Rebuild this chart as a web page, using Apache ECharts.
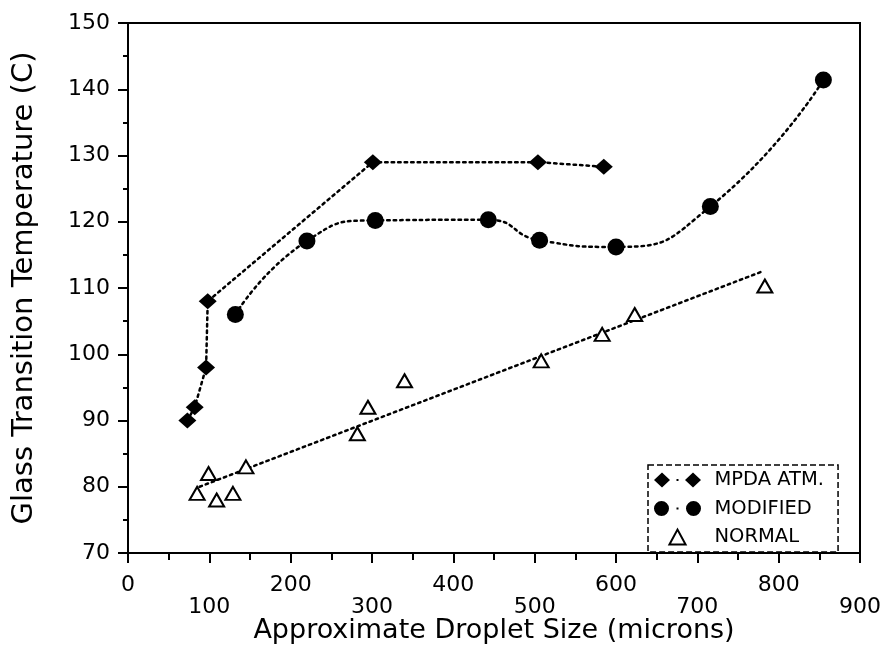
<!DOCTYPE html>
<html>
<head>
<meta charset="utf-8">
<script src="https://cdn.jsdelivr.net/npm/echarts@6/dist/echarts.min.js"></script>
<style>
  html, body { margin: 0; padding: 0; background: #fff; }
  #chart { width: 886px; height: 645px; }
</style>
</head>
<body>
<div id="chart"></div>
<script>
// MPDA ATM. (菱形)
var mpdaX = [73, 82, 96, 98, 301, 504, 585]
var mpdaY = [90, 92, 98, 108, 129, 129, 128.3]
// MODIFIED (圆点)
var modX = [132, 220, 304, 443, 506, 600, 716, 855]
var modY = [106, 117.1, 120.2, 120.3, 117.2, 116.2, 122.3, 141.4]
// NORMAL (空心三角)
var normX = [85, 99, 109, 129, 145, 282, 295, 340, 508, 583, 623, 783]
var normY = [79, 82, 78, 79, 83, 88, 92, 96, 99, 103, 106, 110.3]
// NORMAL 拟合线端点
var fitX = [88, 782]
var fitY = [80, 112.6]

var xMin = 0, xMax = 900, xStep = 100
var yMin = 70, yMax = 150, yStep = 10

function pairs(xs, ys) {
    return xs.map(function (x, i) { return [x, ys[i]] })
}

var font = 'DejaVu Sans'
var dotted = { color: '#000', width: 2.5, type: [2.5, 4], cap: 'round' }

var option = {
    animation: false,
    backgroundColor: '#fff',
    grid: {
        left: 128,
        right: 26,
        top: 23,
        bottom: 92,
        outerBoundsMode: 'none', // 不让 v6 自动收缩绘图区
        show: true,
        borderColor: '#000',
        borderWidth: 2
    },
    legend: {
        orient: 'vertical',
        left: 648,
        top: 465,
        padding: [5, 14, 5, 6],
        itemWidth: 48,
        itemHeight: 15,
        itemGap: 8.5,
        symbolKeepAspect: true,
        borderColor: '#000',
        borderWidth: 1.5,
        borderType: 'dashed',
        textStyle: {
            fontFamily: font,
            fontSize: 19.5,
            lineHeight: 18,
            color: '#000',
            padding: [0, 0, 0, 8]
        },
        data: [
            {
                name: 'MPDA ATM.',
                icon: 'path://M0,7.5L8,0L16,7.5L8,15Z M22.5,6.5h2v2h-2Z M31,7.5L39,0L47,7.5L39,15Z'
            },
            {
                name: 'MODIFIED',
                icon: 'path://M0,7.5A7.5,7.5 0 1,1 15,7.5A7.5,7.5 0 1,1 0,7.5Z M22.5,6.5h2v2h-2Z M32,7.5A7.5,7.5 0 1,1 47,7.5A7.5,7.5 0 1,1 32,7.5Z'
            },
            {
                name: 'NORMAL',
                icon: 'path://M0,13L7,0L14,13Z'
            }
        ]
    },
    xAxis: {
        type: 'value',
        min: xMin,
        max: xMax,
        interval: xStep,
        name: 'Approximate Droplet Size (microns)',
        nameLocation: 'middle',
        nameGap: 64,
        nameMoveOverlap: false,
        nameTextStyle: { fontFamily: font, fontSize: 27, color: '#000' },
        axisLine: { show: true, lineStyle: { color: '#000', width: 2 } },
        axisTick: { show: true, length: 10, lineStyle: { color: '#000', width: 2 } },
        minorTick: { show: true, splitNumber: 2, length: 7, lineStyle: { color: '#000', width: 2 } },
        splitLine: { show: false },
        axisLabel: {
            margin: 21,
            fontFamily: font,
            fontSize: 22,
            color: '#000',
            lineHeight: 22,
            // 奇数百的刻度标签放到第二行
            formatter: function (v) {
                return (v / 100) % 2 === 1 ? '\n' + v : String(v)
            }
        }
    },
    yAxis: {
        type: 'value',
        min: yMin,
        max: yMax,
        interval: yStep,
        name: 'Glass Transition Temperature (C)',
        nameLocation: 'middle',
        nameGap: 89,
        nameMoveOverlap: false,
        nameTextStyle: { fontFamily: font, fontSize: 29, color: '#000' },
        axisLine: { show: true, lineStyle: { color: '#000', width: 2 } },
        axisTick: { show: true, length: 10, lineStyle: { color: '#000', width: 2 } },
        minorTick: { show: true, splitNumber: 2, length: 5, lineStyle: { color: '#000', width: 2 } },
        splitLine: { show: false },
        axisLabel: {
            margin: 18,
            fontFamily: font,
            fontSize: 22,
            color: '#000'
        }
    },
    series: [
        {
            name: 'MPDA ATM.',
            type: 'line',
            data: pairs(mpdaX, mpdaY),
            symbol: 'diamond',
            symbolSize: [18, 16],
            itemStyle: { color: '#000' },
            lineStyle: dotted,
            z: 3
        },
        {
            name: 'MODIFIED',
            type: 'line',
            data: pairs(modX, modY),
            symbol: 'circle',
            symbolSize: 17,
            smooth: 0.55,
            itemStyle: { color: '#000' },
            lineStyle: dotted,
            z: 3
        },
        {
            name: 'NORMAL',
            type: 'scatter',
            data: pairs(normX, normY),
            symbol: 'triangle',
            symbolSize: [15, 13],
            itemStyle: { color: '#fff', borderColor: '#000', borderWidth: 2, opacity: 1 },
            z: 4
        },
        {
            name: 'fit',
            type: 'line',
            data: pairs(fitX, fitY),
            symbol: 'none',
            lineStyle: dotted,
            z: 2
        }
    ]
}

var myChart = echarts.init(document.getElementById('chart'))
myChart.setOption(option)
</script>
</body>
</html>
